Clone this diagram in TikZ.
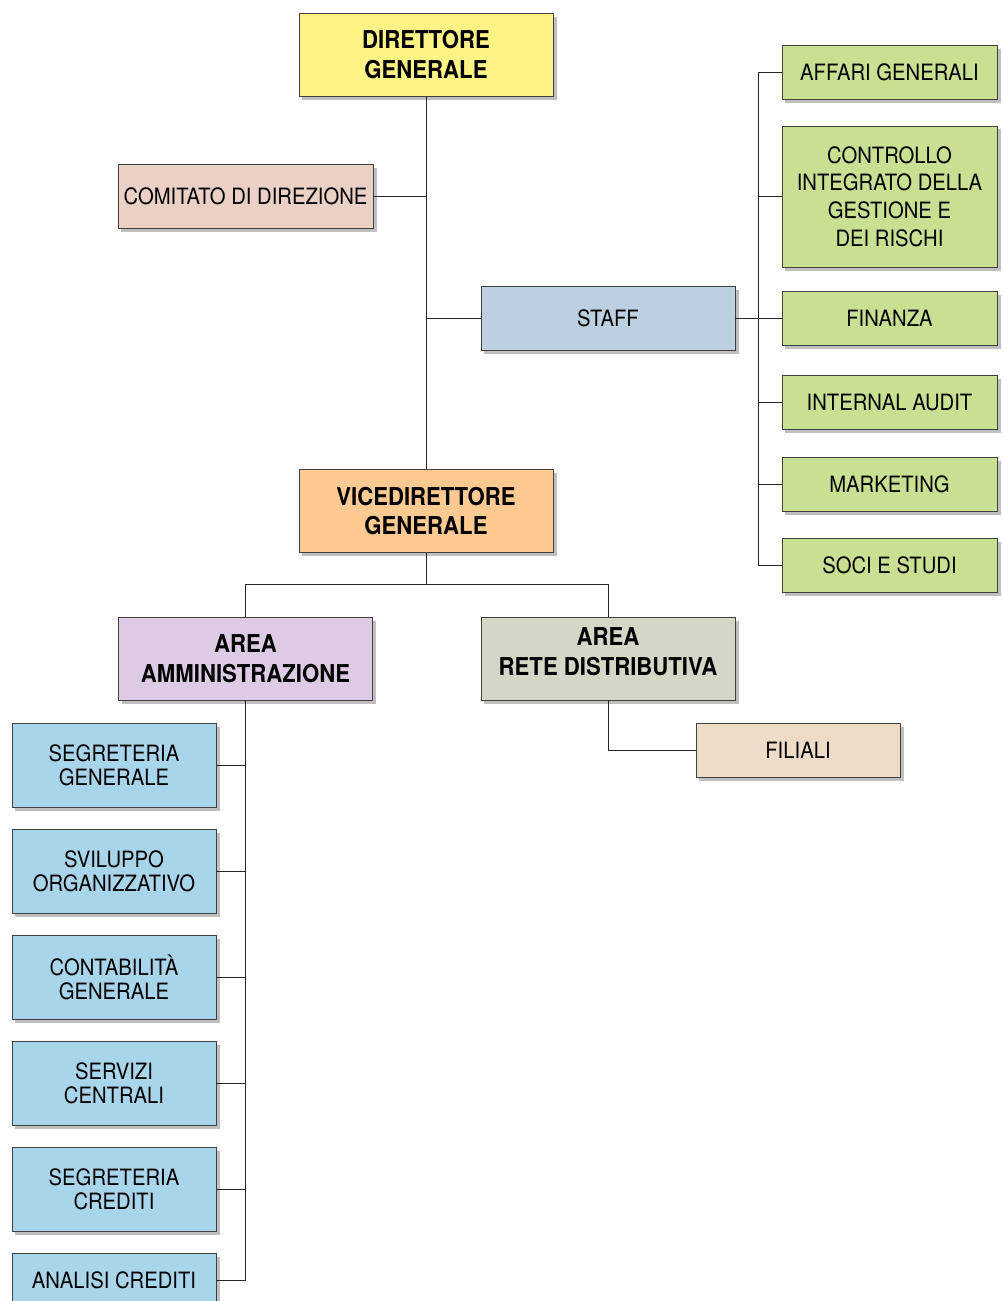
\documentclass[tikz,border=0pt]{standalone}
\usepackage{fontspec}
\setmainfont{TeX Gyre Heros}[FakeStretch=0.9]
\usetikzlibrary{shadows}
\definecolor{cDir}{HTML}{FFF385}
\definecolor{cCom}{HTML}{EBD1C5}
\definecolor{cStaff}{HTML}{BCD0E2}
\definecolor{cGreen}{HTML}{C9DF92}
\definecolor{cVice}{HTML}{FFCA91}
\definecolor{cAmm}{HTML}{DDCBE5}
\definecolor{cRete}{HTML}{D3D8C6}
\definecolor{cFil}{HTML}{EEDCC8}
\definecolor{cBlue}{HTML}{A9D5EB}
\begin{document}
\begin{tikzpicture}[
			x=0.025cm, y=-0.025cm,
			box/.style={draw=black!75, line width=0.6pt, align=center, inner sep=1pt,
					drop shadow={shadow xshift=2.5pt, shadow yshift=-2.5pt, opacity=0.25, fill=black},
					font=\fontsize{16}{19.6}\selectfont},
			head/.style={box, minimum width=6.35cm, minimum height=2.075cm,
					font=\fontsize{17.5}{21.3}\selectfont\bfseries},
			staffbox/.style={box, fill=cGreen, minimum width=5.375cm, minimum height=1.35cm},
			areabox/.style={box, fill=cBlue, minimum width=5.1cm, minimum height=2.1cm,
					font=\fontsize{16}{17}\selectfont},
			link/.style={line width=0.6pt, black!85}
		]
		\useasboundingbox (0,0) rectangle (1003,1301);
		\clip (0,0) rectangle (1003,1301);
		\node[head, fill=cDir] (dg) at (426,54.5) {DIRETTORE\\GENERALE};
		\node[box, fill=cCom, minimum width=6.375cm, minimum height=1.6cm] (comitato) at (245.5,196) {COMITATO DI DIREZIONE};
		\node[box, fill=cStaff, minimum width=6.35cm, minimum height=1.6cm] (staff) at (608,318) {STAFF};
		\node[head, fill=cVice] (vdg) at (426,511) {VICEDIRETTORE\\GENERALE};
		\node[head, fill=cAmm] (amm) at (245.5,658.5) {AREA\\AMMINISTRAZIONE};
		\node[head, fill=cRete, text depth=10pt] (rete) at (608,658.5) {AREA\\RETE DISTRIBUTIVA};
		\node[box, fill=cFil, minimum width=5.1cm, minimum height=1.35cm] (filiali) at (798,750) {FILIALI};
		% staff offices
		\foreach \n/\y/\h/\t in {affari/72/1.35/AFFARI GENERALI,
				controllo/196.5/3.525/{CONTROLLO\\INTEGRATO DELLA\\GESTIONE E\\DEI RISCHI},
				finanza/318/1.35/FINANZA, audit/402/1.35/INTERNAL AUDIT,
				marketing/484/1.35/MARKETING, soci/565/1.35/SOCI E STUDI}
		\node[staffbox, minimum height=\h cm] (\n) at (889.5,\y) {\t};
		% administration offices
		\foreach \n/\y/\h/\t in {segrgen/765/2.1/{SEGRETERIA\\GENERALE},
				sviluppo/871/2.1/{SVILUPPO\\ORGANIZZATIVO},
				contab/977/2.1/{CONTABILITÀ\\GENERALE},
				servizi/1083/2.1/{SERVIZI\\CENTRALI},
				segrcred/1189/2.1/{SEGRETERIA\\CREDITI},
				analisi/1280/1.35/ANALISI CREDITI}
		\node[areabox, minimum height=\h cm] (\n) at (114,\y) {\t};
		\coordinate (rbus) at (758,0);
		\coordinate (vbus) at (0,584);
		\draw[link] (dg) -- (vdg);
		\draw[link] (comitato.east) -- (comitato.east -| dg.south);
		\draw[link] (staff.west) -- (staff.west -| dg.south);
		\draw[link] (staff.east) -- (finanza.west);
		\draw[link] (affari.west) -- (affari.west -| rbus) -- (soci.west -| rbus) -- (soci.west);
		\foreach \n in {controllo,audit,marketing}
		\draw[link] (\n.west) -- (\n.west -| rbus);
		\draw[link] (vdg.south) -- (vdg.south |- vbus);
		\draw[link] (amm.north) -- (amm.north |- vbus) -- (rete.north |- vbus) -- (rete.north);
		\draw[link] (rete.south) |- (filiali.west);
		\draw[link] (amm.south) -- (amm.south |- analisi.east) -- (analisi.east);
		\foreach \n in {segrgen,sviluppo,contab,servizi,segrcred}
		\draw[link] (\n.east) -- (\n.east -| amm.south);
	\end{tikzpicture}
\end{document}
